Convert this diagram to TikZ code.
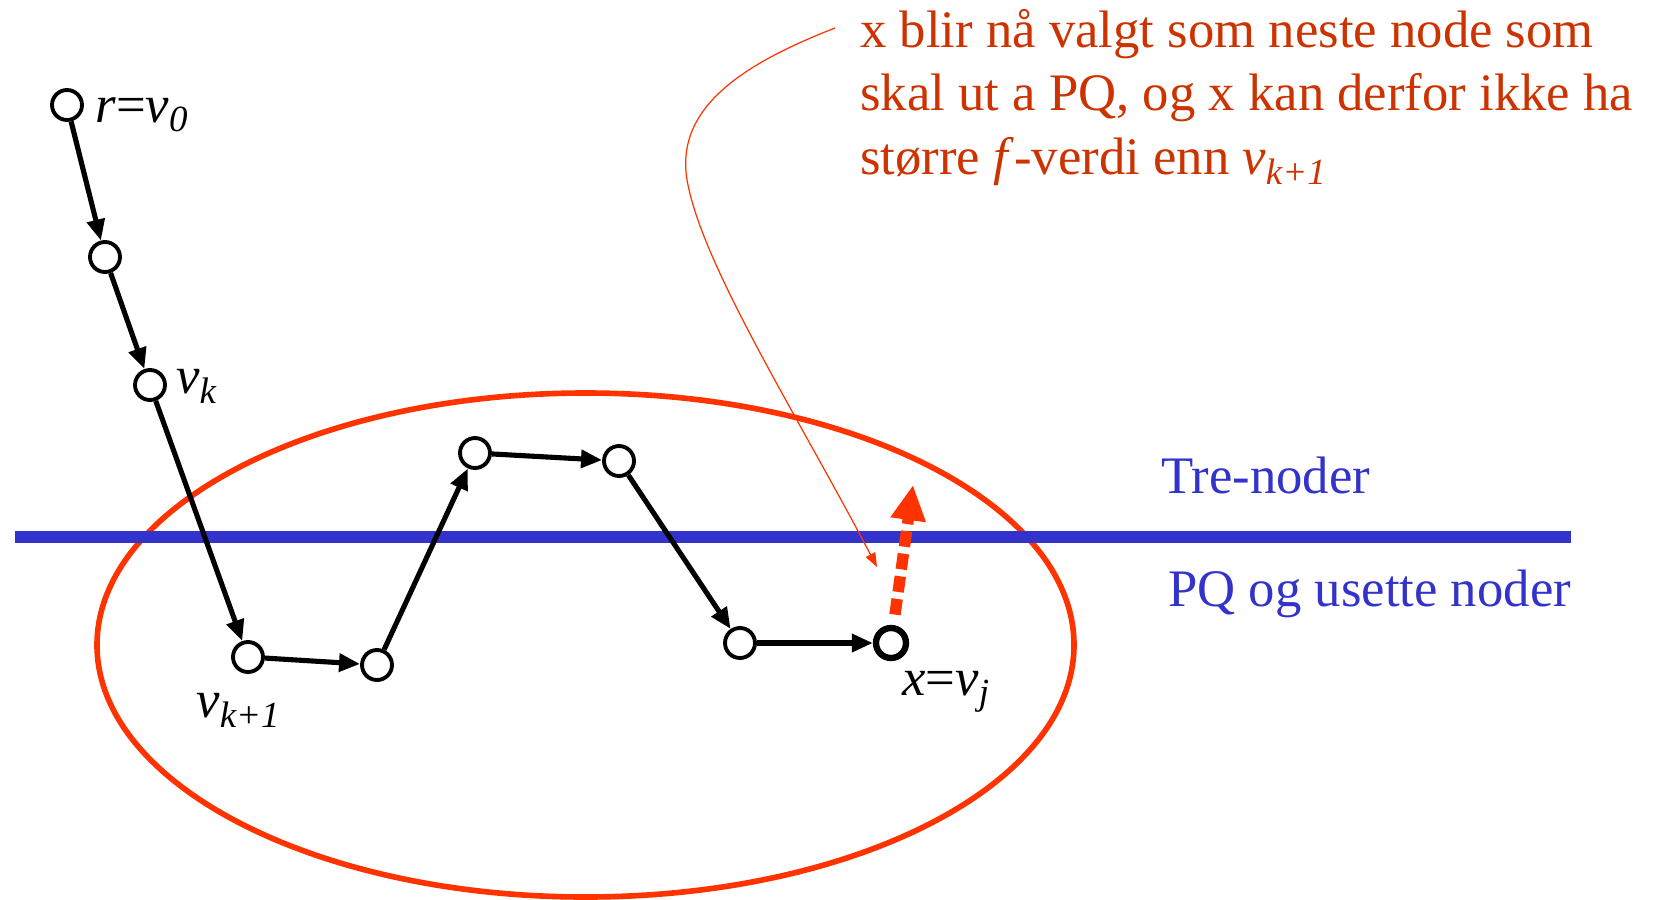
\documentclass[tikz,border=0pt]{standalone}
\usepackage{fontspec}
\setmainfont{Liberation Serif}
\usepackage{tikz}
\usetikzlibrary{arrows.meta}
\definecolor{ovalred}{HTML}{FF3300}
\definecolor{notered}{HTML}{CC3300}
\definecolor{lineblue}{HTML}{3333CC}

\begin{document}
\begin{tikzpicture}
  [x=0.02cm, y=-0.02cm,
   vertex/.style={circle, draw, line width=2.2pt, minimum size=0.6cm, inner sep=0pt, fill=white},
   edge/.style={line width=2.9pt, -{Triangle[length=12pt, width=10pt]}},
   lbl/.style={anchor=base west, inner sep=0pt, font=\fontsize{30}{36}\selectfont}]
  \useasboundingbox (0,0) rectangle (1655,899);
  % PQ and unseen nodes
  \draw[ovalred, line width=3.2pt] (585.5,645) ellipse [x radius=488.5, y radius=252];
  \draw[lineblue, line width=6.6pt] (15,537) -- (1571,537);
  \node[vertex] (r) at (67,105) {};
  \node[vertex] (a) at (105,257) {};
  \node[vertex] (vk) at (150,385) {};
  \node[vertex] (vk1) at (248,657) {};
  \node[vertex] (b) at (377,665) {};
  \node[vertex] (c) at (475,453) {};
  \node[vertex] (d) at (619,461) {};
  \node[vertex] (e) at (740,643) {};
  \node[vertex, line width=3.6pt] (x) at (891,643) {};
  % the path from the root
  \draw[edge] (r)--(a);
  \draw[edge] (a)--(vk);
  \draw[edge] (vk)--(vk1);
  \draw[edge] (vk1)--(b);
  \draw[edge] (b)--(c);
  \draw[edge] (c)--(d);
  \draw[edge] (d)--(e);
  \draw[edge] (e)--(x);
  \coordinate (up) at (913,485);
  \draw[ovalred, line width=6.5pt, dash pattern=on 9pt off 4pt, shorten <=6pt,
        -{Triangle[length=20pt, width=19pt]}] (x)--(up);
  \node[lbl] (rl) at (95,122) {\textit{r}=\textit{v}\textsubscript{\itshape 0}};
  \node[lbl] (vkl) at (176,393) {\textit{v}\textsubscript{\itshape k}};
  \node[lbl] (vk1l) at (196,717) {\textit{v}\textsubscript{\itshape k+1}};
  \node[lbl] (xl) at (902,695) {\textit{x}=\textit{v}\textsubscript{\itshape j}};
  \node[lbl, lineblue] (tre) at (1161,493) {Tre-noder};
  \node[lbl, lineblue] (pq) at (1168,606) {PQ og usette noder};
  \node[lbl, notered, align=left] (note) at (860,174)
    {x blir nå valgt som neste node som\\
     skal ut a PQ, og x kan derfor ikke ha\\
     større \textit{f}-verdi enn \textit{v}\textsubscript{\itshape k+1}};
  % callout
  \coordinate (c0) at (835,28);
  \coordinate (tip) at (877,567);
  \draw[ovalred, line width=0.7pt, -{Triangle[length=8pt, width=6pt]}]
    (c0) .. controls (740,65) and (672,110) .. (688,185)
    .. controls (705,270) and (800,420) .. (tip);
\end{tikzpicture}
\end{document}
